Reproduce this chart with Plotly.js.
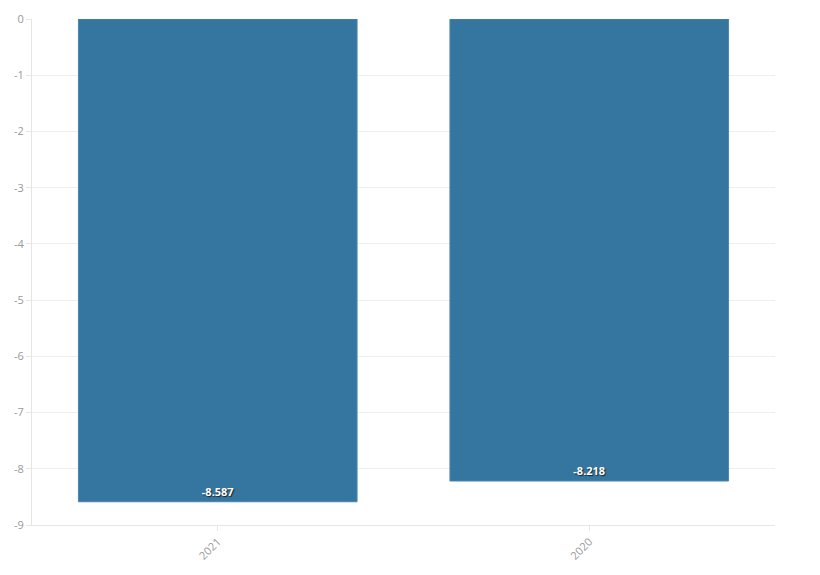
<!DOCTYPE html>
<html>
<head>
<meta charset="utf-8">
<script src="https://cdn.plot.ly/plotly-3.0.1.min.js"></script>
<style>
  body { margin: 0; }
  #chart { width: 820px; height: 575px; }
</style>
</head>
<body>
<div id="chart"></div>
<script>
// chart values
const years = ["2021", "2020"];
const values = [-8.587, -8.218];
const labels = ["-8.587", "-8.218"];
const yTickVals = [0, -1, -2, -3, -4, -5, -6, -7, -8, -9];
const yTickText = ["0", "-1", "-2", "-3", "-4", "-5", "-6", "-7", "-8", "-9"];

let trace = {
    x: years,
    y: values,
    type: "bar",
    text: labels,
    textposition: "inside",
    insidetextanchor: "end",
    textangle: 0,
    textfont: { family: "Open Sans", size: 11, color: "#ffffff", weight: "bold",
                shadow: "1px 1px 1px #222" },
    marker: { color: "#34769f", line: { color: "#4a88ad", width: 1 } },
    hoverinfo: "x+y"
};

let layout = {
    width: 820, height: 575,
    margin: { l: 32, r: 45, t: 19, b: 50 },
    paper_bgcolor: "#ffffff",
    plot_bgcolor: "#ffffff",
    font: { family: "Open Sans", size: 11, color: "#999999" },
    bargap: 0.25,
    showlegend: false,
    xaxis: {
        type: "category",
        tickangle: -45,
        ticks: "outside",
        ticklen: 5,
        tickcolor: "#e6e6e6",
        showline: true,
        linecolor: "#e6e6e6",
        showgrid: false,
        tickfont: { size: 11, color: "#999999" }
    },
    yaxis: {
        range: [-9, 0],
        tickmode: "array",
        tickvals: yTickVals,
        ticktext: yTickText,
        ticks: "outside",
        ticklen: 5,
        tickcolor: "#e6e6e6",
        showline: true,
        linecolor: "#e6e6e6",
        gridcolor: "#eeeeee",
        zeroline: false,
        tickfont: { size: 11, color: "#999999" }
    }
};

Plotly.newPlot("chart", [trace], layout, { displayModeBar: false });
</script>
</body>
</html>
